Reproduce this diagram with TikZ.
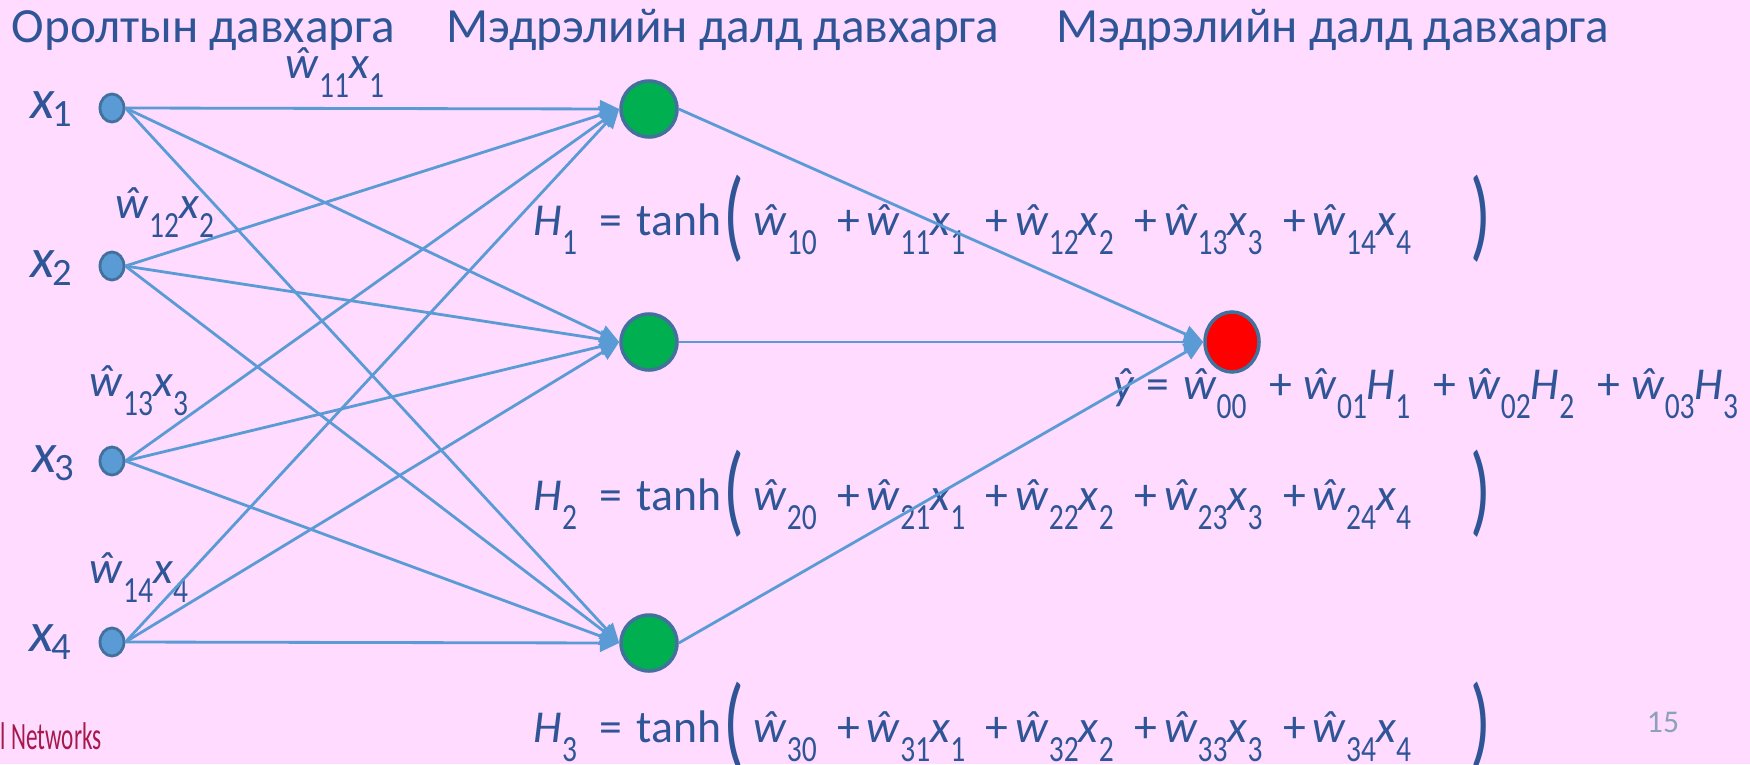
\documentclass[tikz,border=0pt]{standalone}
\usepackage{graphicx}
\usepackage{fontspec}
\setmainfont{Carlito}
\newfontfamily\subfont[FakeStretch=0.8]{Carlito}
\newfontfamily\netfont[FakeStretch=0.6]{Carlito}
\usetikzlibrary{arrows.meta, shapes.geometric}
\definecolor{slidepink}{RGB}{255,219,255}
\definecolor{linkblue}{RGB}{91,155,213}
\definecolor{rimblue}{RGB}{65,113,156}
\definecolor{inkblue}{RGB}{47,85,151}
\definecolor{hidgreen}{RGB}{0,176,80}
\definecolor{outred}{RGB}{255,0,0}
\definecolor{netred}{RGB}{165,25,75}
\definecolor{pagegray}{RGB}{140,160,185}

\newcommand{\mysub}[1]{\raisebox{-5.5pt}{\fontsize{10.5}{10.5}\subfont #1}}
\newcommand{\wh}[1]{\textit{ŵ}\mysub{#1}}
\newcommand{\xv}[1]{\textit{x}\mysub{#1}}
\newcommand{\Hv}[1]{\textit{H}\mysub{#1}}
\newcommand{\xlab}[1]{\textit{x}\hspace{-0.05em}\raisebox{-2.5pt}{\fontsize{11}{11}\selectfont #1}}
\newcommand{\openpar}{\raisebox{-3.8pt}{\scalebox{1.5}[2.2]{(}}}
\newcommand{\closepar}{\raisebox{-3.8pt}{\scalebox{1.5}[2.2]{)}}}
\newcommand{\plusgap}{\hspace{0.45em}+\hspace{0.15em}}
\newcommand{\ygap}{\hspace{0.5em}+\hspace{0.25em}}
\newcommand{\hrow}[1]{\Hv{#1}\hspace{0.5em}=\hspace{0.3em}tanh\hspace{0.05em}\openpar\hspace{0.2em}\wh{#10}\plusgap\wh{#11}\xv{1}\plusgap\wh{#12}\xv{2}\plusgap\wh{#13}\xv{3}\plusgap\wh{#14}\xv{4}\hspace{1.3em}\closepar}

\tikzset{
  innode/.style={ellipse, draw=rimblue, line width=0.8pt, fill=linkblue, minimum width=0.24cm, minimum height=0.28cm, inner sep=0pt},
  hidnode/.style={circle, draw=rimblue, line width=1pt, fill=hidgreen, minimum size=0.56cm, inner sep=0pt},
  outnode/.style={ellipse, draw=rimblue, line width=1pt, fill=outred, minimum width=0.54cm, minimum height=0.60cm, inner sep=0pt},
  link/.style={draw=linkblue, line width=0.8pt, -{Triangle[length=5.5pt,width=5pt]}},
  mathlbl/.style={anchor=base west, inner sep=0pt, text=inkblue, font=\fontsize{13}{15}\selectfont},
  inlbl/.style={anchor=base west, inner sep=0pt, text=inkblue, font=\fontsize{16}{18}\selectfont},
  headtxt/.style={anchor=base west, inner sep=0pt, text=inkblue, font=\fontsize{14}{16}\selectfont}
}

\begin{document}
\begin{tikzpicture}
    \useasboundingbox (0,0) rectangle (17.5,7.64);
    \fill[slidepink] (0,0) rectangle (17.5,7.64);

    \node[headtxt] (head1) at (0.11,7.22) {Оролтын давхарга};
    \node[headtxt] (head2) at (4.46,7.22) {Мэдрэлийн далд давхарга};
    \node[headtxt] (head3) at (10.56,7.22) {Мэдрэлийн далд давхарга};

    \node[innode] (x1) at (1.12,6.56) {};
    \node[innode] (x2) at (1.12,4.98) {};
    \node[innode] (x3) at (1.12,3.03) {};
    \node[innode] (x4) at (1.12,1.22) {};

    \node[hidnode] (h1) at (6.49,6.55) {};
    \node[hidnode] (h2) at (6.49,4.22) {};
    \node[hidnode] (h3) at (6.49,1.21) {};

    \node[outnode] (out) at (12.32,4.22) {};

    \node[inlbl] (lx1) at (0.30,6.46) {\xlab{1}};
    \node[inlbl] (lx2) at (0.30,4.87) {\xlab{2}};
    \node[inlbl] (lx3) at (0.32,2.92) {\xlab{3}};
    \node[inlbl] (lx4) at (0.29,1.13) {\xlab{4}};

    \node[mathlbl] (w11) at (2.85,6.86) {\wh{11}\xv{1}};
    \node[mathlbl] (w12) at (1.15,5.46) {\wh{12}\xv{2}};
    \node[mathlbl] (w13) at (0.89,3.68) {\wh{13}\xv{3}};
    \node[mathlbl] (w14) at (0.89,1.81) {\wh{14}\xv{4}};

    \node[mathlbl] (f1) at (5.33,5.29) {\hrow{1}};
    \node[mathlbl] (f2) at (5.33,2.54) {\hrow{2}};
    \node[mathlbl] (f3) at (5.33,0.22) {\hrow{3}};
    \node[mathlbl] (fy) at (11.13,3.65) {\textit{ŷ}\hspace{0.25em}=\hspace{0.3em}\wh{00}\ygap\wh{01}\Hv{1}\ygap\wh{02}\Hv{2}\ygap\wh{03}\Hv{3}};

    \node[anchor=base west, inner sep=0pt, text=netred, font=\fontsize{11}{12}\netfont] (net) at (0,0.15) {l Networks};
    \node[text=pagegray, inner sep=0pt, font=\fontsize{9}{10}\selectfont] (page) at (16.63,0.42) {15};

    \draw[link] (x1.east) -- (h1.west);
    \draw[link] (x1.east) -- (h2.west);
    \draw[link] (x1.east) -- (h3.west);
    \draw[link] (x2.east) -- (h1.west);
    \draw[link] (x2.east) -- (h2.west);
    \draw[link] (x2.east) -- (h3.west);
    \draw[link] (x3.east) -- (h1.west);
    \draw[link] (x3.east) -- (h2.west);
    \draw[link] (x3.east) -- (h3.west);
    \draw[link] (x4.east) -- (h1.west);
    \draw[link] (x4.east) -- (h2.west);
    \draw[link] (x4.east) -- (h3.west);

    \draw[link] (h1.east) -- (out.west);
    \draw[link] (h2.east) -- (out.west);
    \draw[link] (h3.east) -- (out.west);
\end{tikzpicture}
\end{document}
